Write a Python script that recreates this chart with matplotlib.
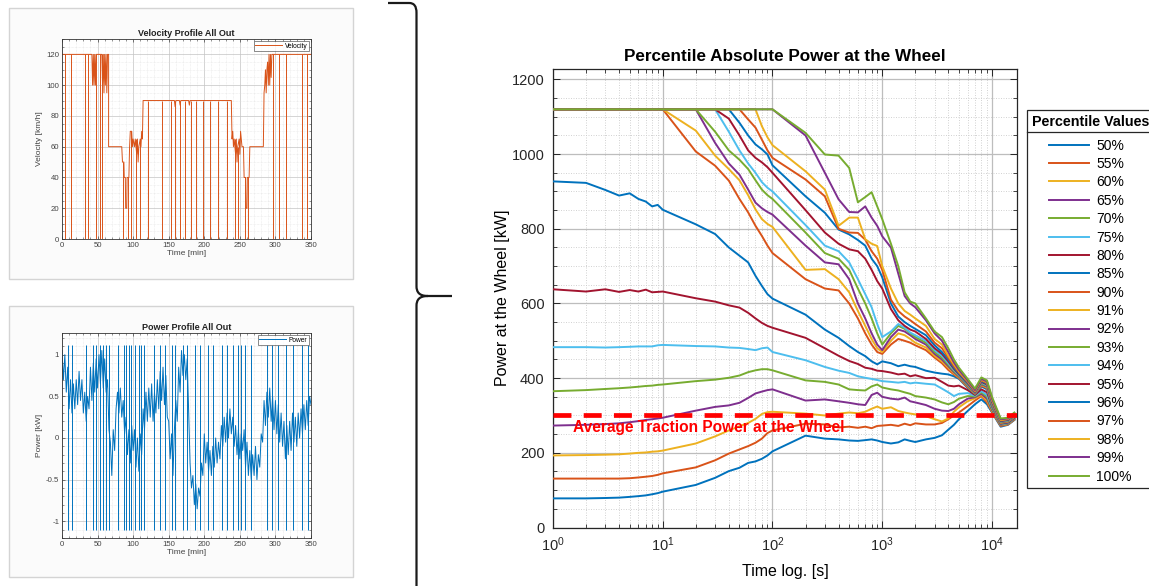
import numpy as np
import matplotlib
matplotlib.use("Agg")
import matplotlib.pyplot as plt
from matplotlib.ticker import MultipleLocator, LogLocator, NullFormatter
from matplotlib.patches import Rectangle, PathPatch
from matplotlib.path import Path
from matplotlib.lines import Line2D

plt.rcParams["font.family"] = ["Liberation Sans", "DejaVu Sans"]
plt.rcParams["axes.unicode_minus"] = False
plt.rcParams["mathtext.fontset"] = "custom"
plt.rcParams["mathtext.rm"] = "Liberation Sans"

# ---------------------------------------------------------------- data
# velocity profile (time in min, speed in km/h)
vel_time = [0, 42, 43, 44, 45, 46, 47, 48, 56, 57, 58, 59, 60, 61, 62, 63, 64, 65.5,
            65.5, 84, 85, 87, 87.5, 89, 89.5, 91, 91.5, 94, 95, 96, 98, 99, 100, 102, 103,
            105, 106, 107, 108, 110, 111, 112, 113,
            114, 158, 159, 160, 165, 166, 167, 178, 179, 180, 238,
            239, 240, 241, 242, 244, 245, 246, 247, 249, 250, 251, 253, 255, 256, 258,
            258.5, 260, 260.5, 263, 264, 283,
            284, 285, 286, 287, 288, 289, 290, 291, 292, 293, 294, 295, 350]
vel_speed = [120, 120, 100, 120, 100, 120, 100, 120, 120, 100, 120, 95, 120, 100, 120, 95, 120, 120,
             60, 60, 50, 50, 40, 40, 20, 20, 40, 40, 60, 70, 70, 60, 65, 60, 65,
             55, 65, 50, 60, 65, 60, 70, 65,
             90, 90, 86, 90, 90, 87, 90, 90, 87, 90, 90,
             65, 70, 60, 65, 55, 65, 50, 60, 65, 55, 70, 60, 60, 40, 40,
             20, 20, 40, 40, 60, 60,
             95, 100, 110, 95, 110, 115, 100, 120, 100, 120, 105, 120, 120]
# stops to standstill (time in min, speed before the stop)
vel_stop_time = [4.5, 12, 32, 36, 48, 54, 56, 86, 92.5, 97, 104, 109,
                 121.5, 141, 153, 158.5, 165.5, 172.5, 181, 189, 198.5, 208, 219.5, 231.5,
                 243, 248, 257, 262, 296, 305.5, 315, 337, 344]
vel_stop_from = [120, 120, 120, 120, 120, 120, 120, 50, 40, 70, 65, 65,
                 90, 90, 90, 90, 90, 90, 90, 90, 90, 90, 90, 90,
                 65, 60, 40, 40, 120, 120, 120, 120, 120]

# power profile, one sample every 2 min (normalised power)
power_time = np.arange(0, 351, 2)
power_value = [
    1.05, 0.70, 1.00, 0.55, 0.85, 0.35, 0.70, 0.30, 0.65, 0.35,
    0.70, 0.40, 0.80, 0.45, 0.70, 0.30, 0.55, 0.20, 0.50, 0.35,
    0.85, 0.45, 0.90, 0.55, 0.95, 0.60, 1.00, 0.65, 1.05, 0.60,
    0.95, 0.55, 0.70, 0.10, -0.05, -0.45, 0.10, -0.15, 0.35, 0.55,
    0.30, 0.60, 0.25, 0.45, 0.05, 0.25, -0.20, 0.10, -0.30, 0.15,
    -0.15, 0.10, -0.35, 0.00, -0.40, 0.05, -0.20, 0.35, 0.10, 0.55,
    0.20, 0.60, 0.25, 0.65, 0.20, 0.55, 0.30, 0.70, 0.35, 0.80,
    0.45, 0.85, 0.40, 0.75, 0.25, 0.20, -0.25, 0.05, -0.45, 0.10,
    0.45, 0.20, 0.85, 0.55, 1.05, 0.75, 1.00, 0.70, 0.95, 0.30,
    -0.30, -0.60, -0.45, -0.80, -0.55, -0.85, -0.60, -0.70, -0.30, -0.45,
    0.05, -0.30, -0.05, -0.40, -0.15, -0.45, -0.10, -0.35, 0.00, -0.30,
    -0.05, -0.25, 0.15, -0.10, 0.25, -0.05, 0.30, 0.00, 0.35, 0.05,
    0.25, -0.10, 0.15, -0.20, 0.10, -0.25, 0.05, -0.15, 0.10, -0.35,
    -0.05, -0.45, -0.15, -0.50, -0.20, -0.45, -0.10, -0.50, -0.20, -0.35,
    0.05, -0.05, 0.45, 0.15, 0.55, 0.25, 0.60, 0.20, 0.50, 0.10,
    0.45, 0.05, 0.40, -0.05, 0.30, -0.10, 0.20, -0.25, 0.15, -0.20,
    0.20, -0.15, 0.30, -0.05, 0.25, -0.10, 0.30, 0.00, 0.35, 0.05,
    0.40, 0.10, 0.45, 0.15, 0.50, 0.40]
# full-scale power reversals (time in min)
power_spike_time = [8.4, 14.1, 34.3, 43.6, 48.3, 53.0, 57.7, 62.4, 66.2, 78.8, 86.8, 90.6,
                    94.3, 97.6, 102.3, 108.4, 111.7, 115.0, 129.0, 137.5, 144.5, 155.3,
                    158.6, 169.4, 176.4, 186.8, 193.8, 205.5, 212.6, 224.3, 231.4, 240.8,
                    247.8, 251.0, 257.2, 265.1, 287.6, 294.7, 304.1, 314.9, 325.2, 336.9,
                    346.3]
power_spike_low, power_spike_high = -1.1, 1.12

# percentile power at the wheel vs. averaging window (s)
window_s = [1, 2, 3, 4, 5, 6, 7, 8, 9, 10,
            20, 30, 40, 50, 60, 70, 80, 90, 100,
            200, 300, 400, 500, 600, 700, 800, 900, 1000,
            1200, 1400, 1600, 1800, 2000,
            2500, 3000, 3500, 4000, 4500, 5000,
            6000, 7000, 8000, 9000, 10000,
            12000, 14000, 16000]

p50 = [78, 78, 79, 80, 82, 84, 86, 89, 92, 96,
       114, 133, 151, 160, 173, 177, 184, 193, 204,
       246, 238, 236, 233, 232, 234, 236, 233, 229,
       225, 228, 236, 232, 229,
       236, 240, 247, 262, 275, 290,
       312, 330, 343, 330, 308,
       270, 275, 288]
p55 = [131, 131, 131, 131, 132, 134, 136, 138, 141, 145,
       161, 180, 198, 209, 218, 227, 238, 253, 260,
       278, 276, 268, 270, 267, 270, 266, 272, 273,
       275, 272, 278, 274, 279,
       276, 276, 280, 290, 300, 308,
       325, 340, 352, 335, 310,
       272, 276, 289]
p60 = [193, 194, 195, 196, 198, 200, 201, 203, 204, 206,
       225, 244, 260, 271, 280, 291, 304, 309, 310,
       305, 300, 305, 308, 306, 310, 318, 324, 318,
       322, 312, 308, 305, 303,
       298, 290, 284, 292, 310, 322,
       338, 346, 355, 340, 312,
       274, 277, 290]
p65 = [273, 275, 277, 279, 282, 285, 288, 290, 292, 294,
       313, 323, 327, 334, 347, 359, 364, 368, 370,
       340, 343, 338, 334, 330, 328, 355, 361, 350,
       345, 343, 348, 338, 335,
       328, 318, 313, 312, 318, 330,
       345, 349, 358, 345, 315,
       275, 278, 291]
p70 = [365, 368, 371, 373, 375, 377, 379, 380, 382, 383,
       392, 396, 401, 407, 416, 421, 424, 424, 421,
       394, 390, 383, 370, 368, 367, 378, 383, 375,
       370, 367, 362, 358, 352,
       348, 343, 335, 330, 336, 345,
       352, 351, 362, 350, 318,
       276, 279, 292]
p75 = [483, 483, 482, 483, 484, 485, 485, 485, 488, 489,
       486, 485, 482, 481, 478, 475, 480, 482, 470,
       448, 430, 420, 414, 405, 401, 398, 395, 392,
       390, 388, 390, 386, 388,
       385, 383, 372, 362, 352, 358,
       360, 353, 365, 355, 322,
       277, 280, 293]
p80 = [638, 632, 638, 631, 636, 632, 637, 630, 631, 632,
       614, 605, 595, 589, 575, 560, 548, 540, 535,
       508, 480, 460, 446, 438, 428, 425, 420, 419,
       415, 410, 412, 405, 408,
       400, 401, 390, 380, 378, 380,
       368, 355, 370, 362, 325,
       278, 281, 294]
p85 = [927, 923, 904, 889, 895, 880, 873, 860, 864, 851,
       812, 786, 750, 728, 710, 674, 647, 625, 613,
       570, 530, 508, 486, 470, 459, 445, 437, 445,
       440, 432, 436, 432, 430,
       420, 415, 412, 410, 405, 398,
       374, 357, 378, 370, 326,
       279, 282, 295]
p90 = [1120, 1120, 1120, 1120, 1120, 1120, 1120, 1120, 1120, 1120,
       1007, 969, 929, 880, 844, 808, 781, 755, 735,
       665, 640, 635, 600, 560, 520, 490, 470, 465,
       490, 505, 500, 495, 488,
       475, 455, 440, 422, 410, 400,
       376, 358, 380, 373, 328,
       280, 283, 296]
p91 = [1120, 1120, 1120, 1120, 1120, 1120, 1120, 1120, 1120, 1120,
       1063, 996, 960, 930, 890, 852, 826, 813, 805,
       690, 692, 665, 630, 580, 540, 505, 480, 470,
       500, 520, 515, 505, 495,
       482, 460, 445, 428, 413, 402,
       378, 359, 382, 375, 329,
       281, 284, 297]
p92 = [1120, 1120, 1120, 1120, 1120, 1120, 1120, 1120, 1120, 1120,
       1120, 1030, 975, 945, 905, 870, 855, 845, 838,
       755, 710, 705, 665, 600, 560, 520, 490, 475,
       510, 530, 525, 515, 505,
       490, 465, 450, 432, 416, 404,
       380, 360, 384, 377, 330,
       282, 285, 298]
p93 = [1120, 1120, 1120, 1120, 1120, 1120, 1120, 1120, 1120, 1120,
       1120, 1060, 1010, 985, 960, 930, 905, 890, 880,
       790, 735, 720, 690, 640, 600, 560, 520, 490,
       520, 540, 532, 520, 510,
       495, 470, 455, 436, 419, 406,
       382, 361, 386, 379, 332,
       283, 286, 299]
p94 = [1120, 1120, 1120, 1120, 1120, 1120, 1120, 1120, 1120, 1120,
       1120, 1120, 1060, 1010, 975, 950, 925, 910, 900,
       810, 755, 740, 710, 665, 625, 590, 545, 510,
       525, 545, 535, 522, 515,
       500, 475, 460, 440, 422, 408,
       384, 362, 388, 381, 334,
       284, 287, 300]
p95 = [1120, 1120, 1120, 1120, 1120, 1120, 1120, 1120, 1120, 1120,
       1120, 1120, 1095, 1050, 1010, 990, 978, 965, 950,
       850, 790, 760, 745, 740, 720, 690, 660, 640,
       585, 555, 540, 530, 525,
       505, 480, 465, 445, 425, 410,
       386, 363, 390, 383, 336,
       285, 288, 301]
p96 = [1120, 1120, 1120, 1120, 1120, 1120, 1120, 1120, 1120, 1120,
       1120, 1120, 1120, 1084, 1050, 1026, 1013, 999, 970,
       887, 843, 798, 785, 770, 755, 720, 700, 670,
       600, 565, 550, 540, 532,
       515, 488, 470, 450, 428, 412,
       388, 364, 392, 385, 338,
       286, 289, 302]
p97 = [1120, 1120, 1120, 1120, 1120, 1120, 1120, 1120, 1120, 1120,
       1120, 1120, 1120, 1120, 1093, 1071, 1039, 1010, 990,
       932, 887, 800, 790, 789, 771, 740, 720, 690,
       610, 580, 565, 555, 545,
       525, 495, 480, 455, 432, 415,
       390, 365, 394, 387, 340,
       287, 290, 303]
p98 = [1120, 1120, 1120, 1120, 1120, 1120, 1120, 1120, 1120, 1120,
       1120, 1120, 1120, 1120, 1120, 1120, 1075, 1045, 1024,
       954, 905, 808, 830, 830, 772, 760, 754, 700,
       640, 600, 580, 570, 560,
       540, 505, 490, 460, 437, 418,
       392, 366, 396, 389, 342,
       288, 291, 304]
p99 = [1120, 1120, 1120, 1120, 1120, 1120, 1120, 1120, 1120, 1120,
       1120, 1120, 1120, 1120, 1120, 1120, 1120, 1120, 1120,
       1050, 950, 879, 845, 844, 860, 830, 808, 780,
       750, 680, 620, 600, 590,
       555, 520, 500, 470, 442, 422,
       394, 368, 398, 391, 345,
       290, 292, 306]
p100 = [1120, 1120, 1120, 1120, 1120, 1120, 1120, 1120, 1120, 1120,
        1120, 1120, 1120, 1120, 1120, 1120, 1120, 1120, 1120,
        1057, 999, 996, 963, 871, 885, 898, 860, 826,
        760, 700, 630, 605, 600,
        560, 525, 510, 480, 450, 428,
        398, 372, 402, 394, 350,
        292, 294, 308]

percentile_labels = ["50%", "55%", "60%", "65%", "70%", "75%", "80%", "85%", "90%", "91%",
                     "92%", "93%", "94%", "95%", "96%", "97%", "98%", "99%", "100%"]
percentile_series = [p50, p55, p60, p65, p70, p75, p80, p85, p90, p91,
                     p92, p93, p94, p95, p96, p97, p98, p99, p100]
avg_traction_power = 300

# ---------------------------------------------------------------- styling
W_PX, H_PX = 1149, 586
ORDER = ["#0072BD", "#D95319", "#EDB120", "#7E2F8E", "#77AC30", "#4DBEEE", "#A2142F"]

fig = plt.figure(figsize=(W_PX / 100, H_PX / 100), dpi=100)
fig.patch.set_facecolor("white")


def px_axes(x0, y0, x1, y1, **kw):
    return fig.add_axes([x0 / W_PX, 1 - y1 / H_PX, (x1 - x0) / W_PX, (y1 - y0) / H_PX], **kw)


# decoration layer: screenshot frames and the curly brace
deco = px_axes(0, 0, W_PX, H_PX)
deco.set_xlim(0, W_PX)
deco.set_ylim(H_PX, 0)
deco.axis("off")
for top in (8, 306):
    deco.add_patch(Rectangle((9, top), 344, 271, facecolor="#fbfbfb",
                             edgecolor="#d4d4d4", lw=1.0))

brace_verts = [(388, 3), (409, 3), (414, 3), (416.5, 6), (416.5, 13),
               (416.5, 286),
               (416.5, 292), (419, 296), (428, 296),
               (452, 296),
               (428, 296), (419, 296), (416.5, 300), (416.5, 306),
               (416.5, 600)]
brace_codes = [Path.MOVETO, Path.LINETO, Path.CURVE4, Path.CURVE4, Path.CURVE4,
               Path.LINETO,
               Path.CURVE4, Path.CURVE4, Path.CURVE4,
               Path.LINETO,
               Path.MOVETO, Path.CURVE4, Path.CURVE4, Path.CURVE4,
               Path.LINETO]
deco.add_patch(PathPatch(Path(brace_verts, brace_codes), facecolor="none",
                         edgecolor="#1a1a1a", lw=1.6, capstyle="butt"))


def small_axes_style(a):
    a.tick_params(which="both", direction="in", top=True, right=True,
                  labelsize=5.6, colors="#444444", pad=2)
    a.tick_params(which="major", length=2.5, width=0.5)
    a.tick_params(which="minor", length=1.2, width=0.4)
    a.grid(which="major", color="#c4c4c4", lw=0.5)
    a.grid(which="minor", color="#dddddd", lw=0.4, ls=(0, (1, 1.5)))
    a.set_axisbelow(True)
    for s in a.spines.values():
        s.set_linewidth(0.6)
        s.set_color("#333333")


# velocity profile
axv = px_axes(62, 39, 311, 239)
axv.plot(vel_time, vel_speed, color="#D95319", lw=0.7, label="Velocity")
axv.vlines(vel_stop_time, 0, vel_stop_from, color="#D95319", lw=0.7)
axv.set_xlim(0, 350)
axv.set_ylim(0, 130)
axv.xaxis.set_major_locator(MultipleLocator(50))
axv.xaxis.set_minor_locator(MultipleLocator(10))
axv.yaxis.set_major_locator(MultipleLocator(20))
axv.yaxis.set_minor_locator(MultipleLocator(5))
small_axes_style(axv)
axv.set_title("Velocity Profile All Out", fontsize=6.5, weight="bold", pad=2, color="#222222")
axv.set_xlabel("Time [min]", fontsize=6, labelpad=1, color="#444444")
axv.set_ylabel("Velocity [km/h]", fontsize=6, labelpad=2, color="#444444")
lv = axv.legend(loc="upper right", fontsize=4.8, frameon=True, fancybox=False,
                borderpad=0.25, handlelength=4, handletextpad=0.4, borderaxespad=0.3)
lv.get_frame().set_edgecolor("#333333")
lv.get_frame().set_linewidth(0.5)

# power profile
axp = px_axes(62, 333, 311, 538)
axp.plot(power_time, power_value, color="#0072BD", lw=0.7, label="Power")
axp.vlines(power_spike_time, power_spike_low, power_spike_high, color="#0072BD", lw=0.7)
axp.set_xlim(0, 350)
axp.set_ylim(-1.2, 1.26)
axp.xaxis.set_major_locator(MultipleLocator(50))
axp.xaxis.set_minor_locator(MultipleLocator(10))
axp.set_yticks([-1, -0.5, 0, 0.5, 1])
axp.set_yticklabels(["-1", "-0.5", "0", "0.5", "1"])
axp.yaxis.set_minor_locator(MultipleLocator(0.1))
small_axes_style(axp)
axp.set_title("Power Profile All Out", fontsize=6.5, weight="bold", pad=2, color="#222222")
axp.set_xlabel("Time [min]", fontsize=6, labelpad=1, color="#444444")
axp.set_ylabel("Power [kW]", fontsize=6, labelpad=2, color="#444444")
lp = axp.legend(loc="upper right", fontsize=4.8, frameon=True, fancybox=False,
                borderpad=0.25, handlelength=4, handletextpad=0.4, borderaxespad=0.3)
lp.get_frame().set_edgecolor("#333333")
lp.get_frame().set_linewidth(0.5)

# percentile power chart
ax = px_axes(553, 69, 1017, 527.5)
for i, (lab, vals) in enumerate(zip(percentile_labels, percentile_series)):
    ax.plot(window_s, vals, color=ORDER[i % len(ORDER)], lw=1.4, label=lab, zorder=3)

ax.axhline(avg_traction_power, color="#FF0000", lw=3.4, ls=(0, (3.8, 2.6)), zorder=5)
ax.text(1.52, 268, "Average Traction Power at the Wheel", color="#FF0000",
        fontsize=11.2, weight="bold", ha="left", va="center", zorder=6)

ax.set_xscale("log")
ax.set_xlim(1, 16900)
ax.set_ylim(0, 1228)
ax.xaxis.set_major_locator(LogLocator(base=10, numticks=10))
ax.xaxis.set_minor_locator(LogLocator(base=10, subs=np.arange(2, 10), numticks=50))
ax.xaxis.set_minor_formatter(NullFormatter())
ax.yaxis.set_major_locator(MultipleLocator(200))
ax.yaxis.set_minor_locator(MultipleLocator(50))
ax.tick_params(which="both", direction="in", top=True, right=True, labelsize=10.5,
               colors="#262626", pad=6)
ax.tick_params(which="major", length=5, width=0.7)
ax.tick_params(which="minor", length=2.8, width=0.6)
ax.grid(which="major", color="#bdbdbd", lw=0.9)
ax.grid(which="minor", color="#cccccc", lw=0.6, ls=(0, (1.2, 1.8)))
ax.set_axisbelow(True)
for s in ax.spines.values():
    s.set_linewidth(0.9)
    s.set_color("#262626")

ax.set_title("Percentile Absolute Power at the Wheel", fontsize=12.3, weight="bold", pad=6)
ax.set_xlabel("Time log. [s]", fontsize=11.5)
ax.set_ylabel("Power at the Wheel [kW]", fontsize=11.5)
ax.xaxis.set_label_coords(0.5, -0.097)
ax.yaxis.set_label_coords(-0.108, 0.5)
ax.xaxis.label.set_va("center")
ax.yaxis.label.set_va("center")

leg = ax.legend(loc="upper left", bbox_to_anchor=(1027 / W_PX, 1 - 110 / H_PX),
                bbox_transform=fig.transFigure, borderaxespad=0, fontsize=10,
                title="Percentile Values", title_fontproperties={"weight": "bold", "size": 10.3},
                frameon=True, fancybox=False, framealpha=1, handlelength=2.9,
                handletextpad=0.5, labelspacing=0.316, borderpad=0.35)
leg.get_frame().set_edgecolor("#262626")
leg.get_frame().set_linewidth(0.9)
# extra room between the legend title and the entries
try:
    leg._legend_box.sep = 7.0
except AttributeError:
    pass

# separator under the legend title
fig.canvas.draw()
renderer = fig.canvas.get_renderer()
lb = leg.get_window_extent(renderer)
tb = leg.get_title().get_window_extent(renderer)
ysep = tb.y0 - 3
fig.add_artist(Line2D([lb.x0 / W_PX, lb.x1 / W_PX], [ysep / H_PX, ysep / H_PX],
                      transform=fig.transFigure, color="#262626", lw=0.9))

fig.savefig("out.png", dpi=100)
